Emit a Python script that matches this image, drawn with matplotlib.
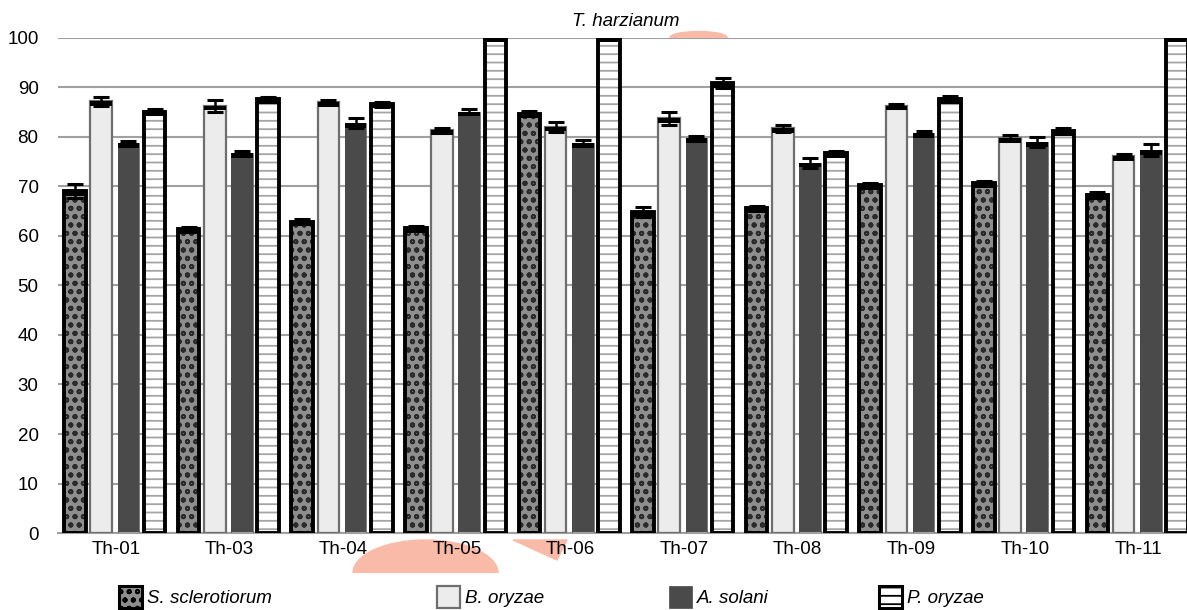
import numpy as np
import matplotlib
matplotlib.use("Agg")
import matplotlib.pyplot as plt
from matplotlib.patches import Patch, Ellipse, Polygon
from matplotlib.transforms import Bbox, TransformedBbox

plt.rcParams['font.family'] = ['Liberation Sans', 'DejaVu Sans']
plt.rcParams['hatch.linewidth'] = 1.3

# ---------------- Données
souches = ['Th-01', 'Th-03', 'Th-04', 'Th-05', 'Th-06', 'Th-07', 'Th-08', 'Th-09', 'Th-10', 'Th-11']
s_sclerotiorum = [69.0, 61.3, 62.8, 61.5, 84.6, 64.8, 65.6, 70.2, 70.6, 68.2]
b_oryzae = [87.2, 86.2, 87.0, 81.3, 82.0, 83.7, 81.7, 86.2, 79.7, 76.1]
a_solani = [78.7, 76.7, 82.7, 85.0, 78.7, 79.7, 74.7, 80.7, 78.9, 77.3]
p_oryzae = [85.0, 87.6, 86.6, 100.0, 100.0, 90.8, 76.7, 87.6, 81.1, 100.0]
err_s = [1.4, 0.5, 0.5, 0.4, 0.5, 1.0, 0.5, 0.5, 0.4, 0.6]
err_b = [0.9, 1.2, 0.5, 0.5, 1.0, 1.3, 0.7, 0.5, 0.6, 0.4]
err_a = [0.5, 0.4, 1.0, 0.5, 0.6, 0.5, 1.0, 0.4, 1.0, 1.2]
err_p = [0.5, 0.4, 0.5, 0.0, 0.0, 1.0, 0.4, 0.6, 0.6, 0.0]

# (nom, valeurs, erreurs, fond, motif, couleur motif, contour, épaisseur)
series = [
    ('S. sclerotiorum', s_sclerotiorum, err_s, '#8e8e8e', 'oo', '#2a2a2a', 'black', 2.8),
    ('B. oryzae', b_oryzae, err_b, '#ececec', '', '#ececec', '#6e6e6e', 1.6),
    ('A. solani', a_solani, err_a, '#4a4a4a', '', '#4a4a4a', '#4a4a4a', 0.5),
    ('P. oryzae', p_oryzae, err_p, 'white', '--', '#a4a4a4', 'black', 2.8),
]

fig = plt.figure(figsize=(11.87, 6.10), dpi=100)
ax = fig.add_axes([0.0489, 0.126, 0.957, 0.8123])

x = np.arange(len(souches))
largeur = 0.19
decal = [-0.36, -0.13, 0.11, 0.34]

for k, (nom, val, err, fc, hatch, hc, ec, lw) in enumerate(series):
    pos = x + decal[k]
    val = np.array(val)
    # remplissage + motif
    ax.bar(pos, val, largeur, color=fc, edgecolor=hc, hatch=hatch, linewidth=0, zorder=2)
    # contour
    ax.bar(pos, val, largeur, color='none', edgecolor=ec, linewidth=lw, zorder=3)
    # bandeau noir en haut de la barre
    ax.bar(pos, 0.9, largeur, bottom=val - 0.9, color='black', linewidth=0, zorder=3)
    # barres d'erreur
    ax.errorbar(pos, val, yerr=err, fmt='none', ecolor='black', elinewidth=1.8,
                capsize=5.5, capthick=2.2, zorder=4)

ax.set_xlim(-0.51, 9.49)
ax.set_ylim(0, 100)
ax.set_yticks(np.arange(0, 101, 10))
ax.set_xticks(x)
ax.set_xticklabels(souches, fontsize=13.5)
ax.tick_params(axis='y', labelsize=13.5, length=0, pad=14)
ax.tick_params(axis='x', length=0, pad=6)
ax.grid(axis='y', color='#a0a0a0', linewidth=1.5, zorder=0)
ax.set_axisbelow(True)
for s in ['top', 'right', 'left']:
    ax.spines[s].set_visible(False)
ax.spines['bottom'].set_color('#a0a0a0')
ax.spines['bottom'].set_linewidth(1.5)

fig.text(0.527, 0.964, 'T. harzianum', fontsize=13.5, style='italic', ha='center', va='center')

# ---------------- Artefacts saumon de l'image d'origine (sous le texte)
saumon = '#f9bba7'
W, H = 1187, 610


def fx(px):
    return px / W


def fy(py):
    return 1 - py / H


demi = Ellipse((fx(425.5), fy(573)), 145 / W, 66 / H, transform=fig.transFigure,
               color=saumon, zorder=-1)
demi.set_clip_box(TransformedBbox(Bbox([[0, fy(573)], [1, 1]]), fig.transFigure))
fig.patches.append(demi)

arc = Ellipse((fx(698.5), fy(37.5)), 57 / W, 12 / H, transform=fig.transFigure,
              color=saumon, zorder=-1)
arc.set_clip_box(TransformedBbox(Bbox([[0, fy(37.5)], [1, 1]]), fig.transFigure))
fig.patches.append(arc)

fig.patches.append(Polygon([(fx(513), fy(540)), (fx(567), fy(540)), (fx(557), fy(560))],
                           closed=True, transform=fig.transFigure, color=saumon, zorder=-1))

# ---------------- Légende
legende_x = [110, 428, 660, 870]
for k, (nom, val, err, fc, hatch, hc, ec, lw) in enumerate(series):
    h = Patch(facecolor=fc, edgecolor=ec, hatch=hatch, linewidth=min(lw, 2.2))
    fig.legend([h], [nom], loc='center left', bbox_to_anchor=(fx(legende_x[k]), fy(597)),
               frameon=False, prop={'size': 13.5, 'style': 'italic'}, borderpad=0,
               handlelength=1.2, handleheight=1.35, handletextpad=0.25)

fig.savefig('out.png', dpi=100)
